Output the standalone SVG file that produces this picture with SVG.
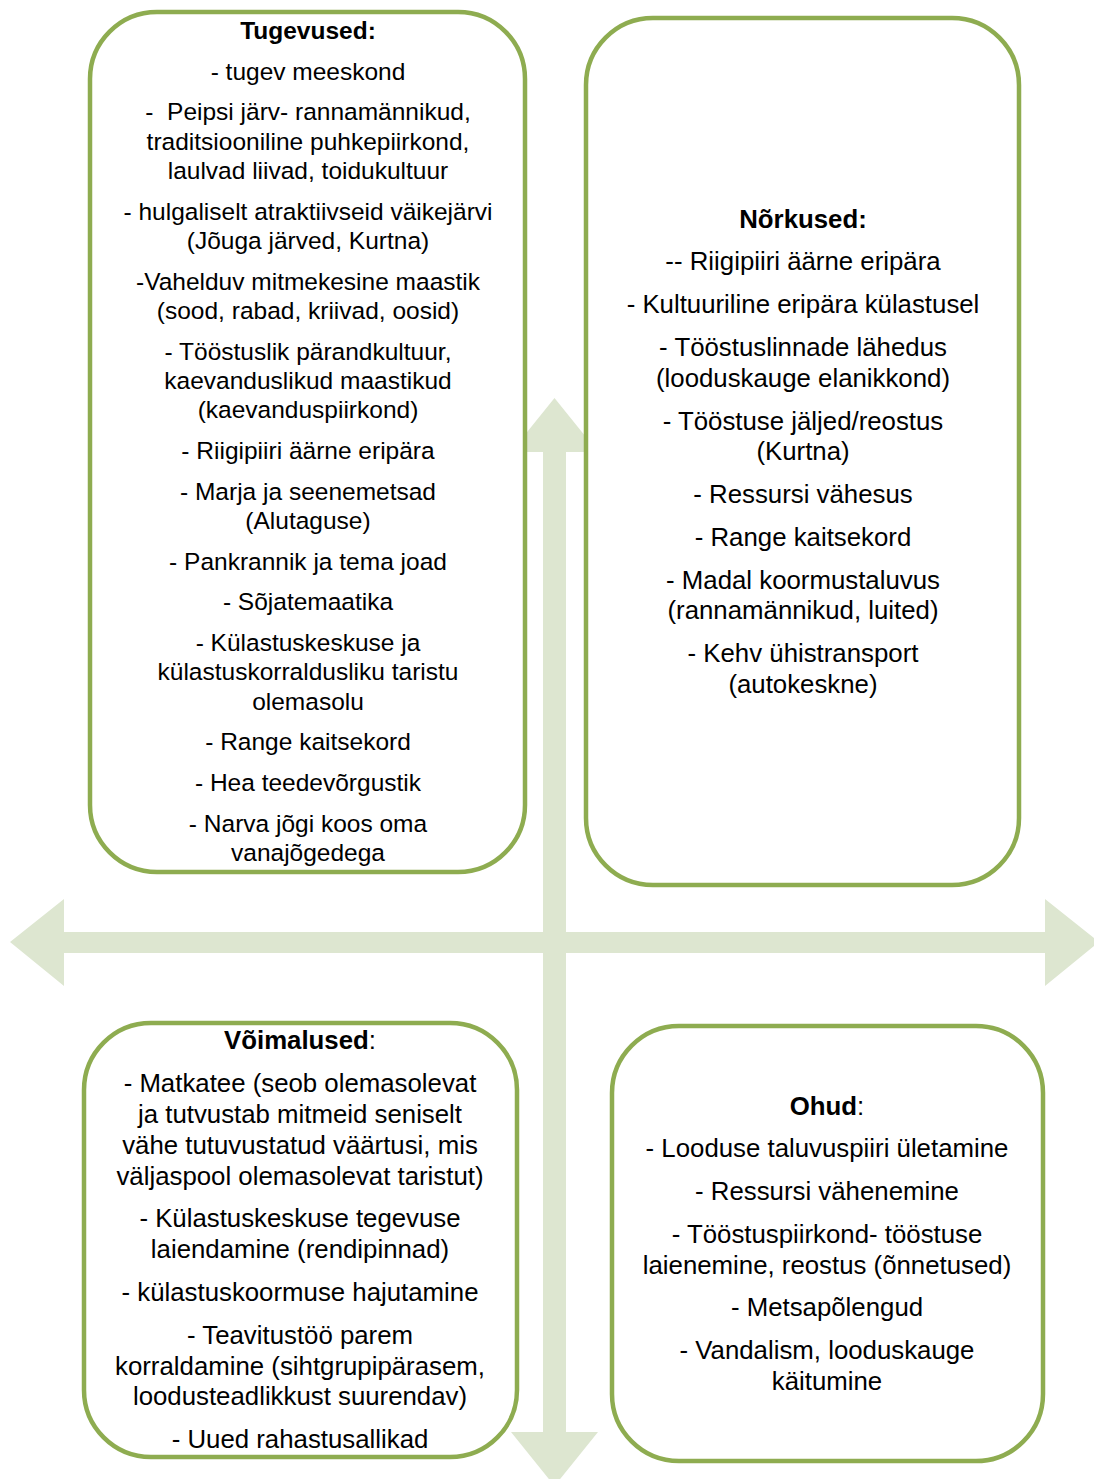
<svg xmlns="http://www.w3.org/2000/svg" width="1094" height="1479" viewBox="0 0 1094 1479">
<style>
.box{fill:#ffffff;stroke:#8EAC50;stroke-width:4.5}
.arr{fill:#DDE6D0}
text{font-family:"Liberation Sans",Arial,sans-serif;fill:#000;text-anchor:middle}
.s1{font-size:24.5px}
.s2{font-size:25.8px}
.b{font-weight:bold}
</style>
<g id="connectors">
<polygon class="arr" points="10,942 64,899 64,932 1045,932 1045,899 1099,942 1045,986 1045,953 64,953 64,986"/>
<polygon class="arr" points="554.5,398 598,452 566,452 566,1432 598,1432 554.5,1486 511,1432 543,1432 543,452 511,452"/>
</g>
<g id="strengths">
<rect class="box" x="90" y="12" width="435" height="860" rx="67" ry="67"/>
<g class="s1">
<text x="308" y="39" class="b">Tugevused:</text>
<text x="308" y="80">- tugev meeskond</text>
<text x="308" y="120">-&#160; Peipsi järv- rannamännikud,</text>
<text x="308" y="150">traditsiooniline puhkepiirkond,</text>
<text x="308" y="179">laulvad liivad, toidukultuur</text>
<text x="308" y="220">- hulgaliselt atraktiivseid väikejärvi</text>
<text x="308" y="249">(Jõuga järved, Kurtna)</text>
<text x="308" y="290">-Vahelduv mitmekesine maastik</text>
<text x="308" y="319">(sood, rabad, kriivad, oosid)</text>
<text x="308" y="360">- Tööstuslik pärandkultuur,</text>
<text x="308" y="389">kaevanduslikud maastikud</text>
<text x="308" y="418">(kaevanduspiirkond)</text>
<text x="308" y="459">- Riigipiiri äärne eripära</text>
<text x="308" y="500">- Marja ja seenemetsad</text>
<text x="308" y="529">(Alutaguse)</text>
<text x="308" y="570">- Pankrannik ja tema joad</text>
<text x="308" y="610">- Sõjatemaatika</text>
<text x="308" y="651">- Külastuskeskuse ja</text>
<text x="308" y="680">külastuskorraldusliku taristu</text>
<text x="308" y="710">olemasolu</text>
<text x="308" y="750">- Range kaitsekord</text>
<text x="308" y="791">- Hea teedevõrgustik</text>
<text x="308" y="832">- Narva jõgi koos oma</text>
<text x="308" y="861">vanajõgedega</text>
</g>
</g>
<g id="weaknesses">
<rect class="box" x="586" y="18" width="433" height="867" rx="67" ry="67"/>
<g class="s2">
<text x="803" y="228" class="b">Nõrkused:</text>
<text x="803" y="270">-- Riigipiiri äärne eripära</text>
<text x="803" y="313">- Kultuuriline eripära külastusel</text>
<text x="803" y="356">- Tööstuslinnade lähedus</text>
<text x="803" y="387">(looduskauge elanikkond)</text>
<text x="803" y="430">- Tööstuse jäljed/reostus</text>
<text x="803" y="460">(Kurtna)</text>
<text x="803" y="503">- Ressursi vähesus</text>
<text x="803" y="546">- Range kaitsekord</text>
<text x="803" y="589">- Madal koormustaluvus</text>
<text x="803" y="619">(rannamännikud, luited)</text>
<text x="803" y="662">- Kehv ühistransport</text>
<text x="803" y="693">(autokeskne)</text>
</g>
</g>
<g id="opportunities">
<rect class="box" x="84" y="1023" width="433" height="434" rx="67" ry="67"/>
<g class="s2">
<text x="300" y="1049"><tspan class="b">Võimalused</tspan>:</text>
<text x="300" y="1092">- Matkatee (seob olemasolevat</text>
<text x="300" y="1123">ja tutvustab mitmeid seniselt</text>
<text x="300" y="1154">vähe tutuvustatud väärtusi, mis</text>
<text x="300" y="1185">väljaspool olemasolevat taristut)</text>
<text x="300" y="1227">- Külastuskeskuse tegevuse</text>
<text x="300" y="1258">laiendamine (rendipinnad)</text>
<text x="300" y="1301">- külastuskoormuse hajutamine</text>
<text x="300" y="1344">- Teavitustöö parem</text>
<text x="300" y="1375">korraldamine (sihtgrupipärasem,</text>
<text x="300" y="1405">loodusteadlikkust suurendav)</text>
<text x="300" y="1448">- Uued rahastusallikad</text>
</g>
</g>
<g id="threats">
<rect class="box" x="612" y="1026" width="431" height="435" rx="67" ry="67"/>
<g class="s2">
<text x="827" y="1115"><tspan class="b">Ohud</tspan>:</text>
<text x="827" y="1157">- Looduse taluvuspiiri ületamine</text>
<text x="827" y="1200">- Ressursi vähenemine</text>
<text x="827" y="1243">- Tööstuspiirkond- tööstuse</text>
<text x="827" y="1274">laienemine, reostus (õnnetused)</text>
<text x="827" y="1316">- Metsapõlengud</text>
<text x="827" y="1359">- Vandalism, looduskauge</text>
<text x="827" y="1390">käitumine</text>
</g>
</g>
</svg>
